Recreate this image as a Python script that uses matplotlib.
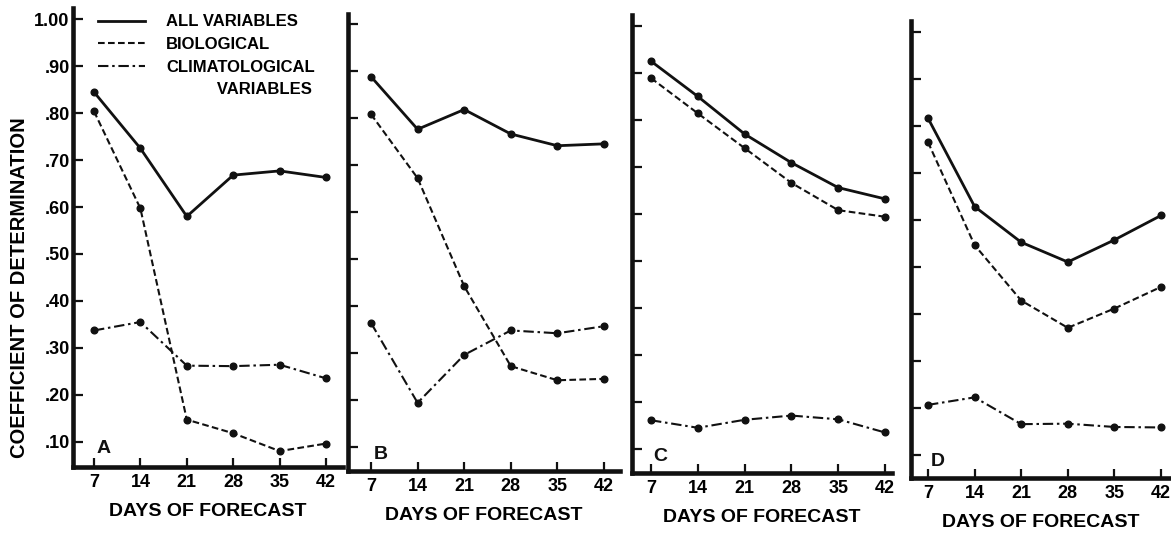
import numpy as np
import matplotlib
matplotlib.use("Agg")
import matplotlib.pyplot as plt
from matplotlib.lines import Line2D

plt.rcParams['font.family'] = ['Liberation Sans', 'DejaVu Sans']
plt.rcParams['font.weight'] = 'bold'

# --- data ---
days = [7, 14, 21, 28, 35, 42]
panel_names = ['A', 'B', 'C', 'D']

all_vars = [
    [0.845, 0.725, 0.580, 0.668, 0.677, 0.663],
    [0.888, 0.776, 0.818, 0.766, 0.741, 0.745],
    [0.926, 0.851, 0.771, 0.710, 0.657, 0.633],
    [0.816, 0.628, 0.552, 0.510, 0.557, 0.609],
]
biological = [
    [0.804, 0.597, 0.147, 0.118, 0.080, 0.096],
    [0.808, 0.672, 0.442, 0.272, 0.242, 0.245],
    [0.890, 0.815, 0.741, 0.667, 0.609, 0.595],
    [0.765, 0.546, 0.428, 0.370, 0.411, 0.457],
]
climatological = [
    [0.337, 0.355, 0.262, 0.261, 0.264, 0.235],
    [0.364, 0.194, 0.296, 0.348, 0.342, 0.357],
    [0.162, 0.146, 0.163, 0.172, 0.164, 0.136],
    [0.206, 0.222, 0.165, 0.166, 0.159, 0.158],
]

yticks = [0.10, 0.20, 0.30, 0.40, 0.50, 0.60, 0.70, 0.80, 0.90, 1.00]
ytick_labels = ['.10', '.20', '.30', '.40', '.50', '.60', '.70', '.80', '.90', '1.00']
series_labels = ['ALL VARIABLES', 'BIOLOGICAL', 'CLIMATOLOGICAL']

W, H = 1171, 534

# pixel layout of each panel: spine x, x of day 7, x of day 42, right end,
# top of spine, y of 1.00, y of .10, baseline
layout = [
    (73, 94, 326, 343, 8.0, 19.3, 441.7, 467),
    (348, 371, 604, 620, 13.6, 24.0, 447.0, 471),
    (632, 651, 885, 892, 15.3, 26.4, 449.4, 473),
    (911, 928, 1161, 1171, 20.7, 31.7, 454.7, 478),
]

ink = '#111111'
styles = [
    dict(linestyle='-', linewidth=2.0),
    dict(linestyle=(0, (3.2, 1.6)), linewidth=1.5),
    dict(linestyle=(0, (5, 1.8, 1.2, 1.8)), linewidth=1.5),
]

fig = plt.figure(figsize=(W / 100, H / 100), dpi=100)

axes = []
for i, (sx, x7, x42, right, top, y100, y010, base) in enumerate(layout):
    ax = fig.add_axes([sx / W, 1 - base / H, (right - sx) / W, (base - top) / H])
    ppd = (x42 - x7) / 35.0
    ppv = (y010 - y100) / 0.9
    ax.set_xlim(7 - (x7 - sx) / ppd, 42 + (right - x42) / ppd)
    ax.set_ylim(0.1 - (base - y010) / ppv, 1.0 + (y100 - top) / ppv)

    for vals, st in zip([all_vars[i], biological[i], climatological[i]], styles):
        ax.plot(days, vals, color=ink, marker='o', markersize=4.8,
                clip_on=False, **st)

    for side in ['top', 'right']:
        ax.spines[side].set_visible(False)
    for side in ['left', 'bottom']:
        ax.spines[side].set_linewidth(3.3)
        ax.spines[side].set_color(ink)
        ax.spines[side].set_capstyle('projecting')

    ax.set_xticks(days)
    ax.set_xticklabels([str(d) for d in days])
    ax.set_yticks(yticks)
    if i == 0:
        ax.set_yticklabels(ytick_labels)
    else:
        ax.set_yticklabels([])
    ax.tick_params(axis='y', direction='in', length=7, width=1.6, color=ink,
                   labelsize=13, pad=2.5)
    ax.tick_params(axis='x', direction='in', length=6.5, width=1.6, color=ink,
                   labelsize=13, pad=5)
    ax.set_xlabel('DAYS OF FORECAST', fontsize=14, fontweight='bold', labelpad=9)
    ax.text(7.35, 0.085, panel_names[i], fontsize=14, fontweight='bold',
            ha='left', va='center', color=ink)
    ax.patch.set_visible(False)
    axes.append(ax)

axes[0].set_ylabel('COEFFICIENT OF DETERMINATION', fontsize=14.5,
                   fontweight='bold')
axes[0].yaxis.set_label_coords(-0.163, 0.39)

handles = [Line2D([], [], color=ink, **st) for st in styles]
handles.append(Line2D([], [], color='none'))
labels = series_labels + ['           VARIABLES']
axes[0].legend(handles, labels, loc='upper left',
               bbox_to_anchor=(98 / W, 1 - 14.5 / H),
               bbox_transform=fig.transFigure, frameon=False,
               borderpad=0, borderaxespad=0, handlelength=2.8,
               handletextpad=1.3, labelspacing=0.46,
               prop=dict(size=12, weight='bold'))

fig.savefig('out.png', dpi=100)
